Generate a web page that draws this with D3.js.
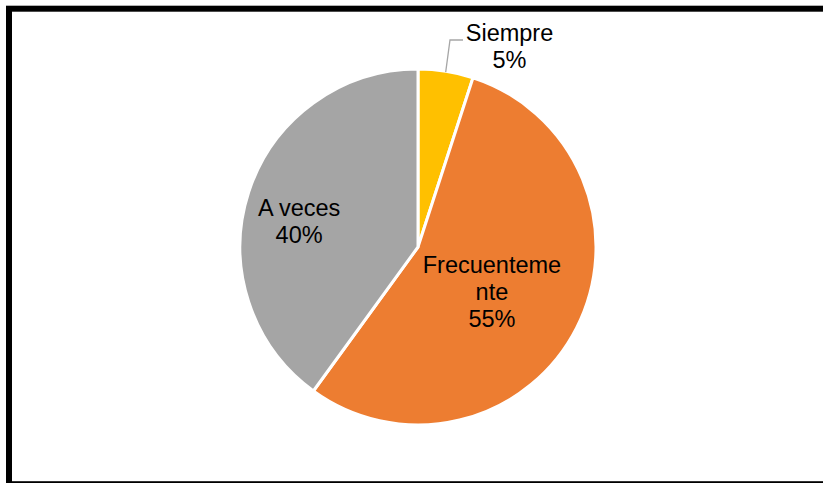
<!DOCTYPE html>
<html>
<head>
<meta charset="utf-8">
<script src="https://cdn.jsdelivr.net/npm/d3@7"></script>
<style>
  html, body { margin: 0; padding: 0; background: #fff; }
  svg { display: block; }
  text { font-family: "Liberation Sans", Arial, sans-serif; fill: #000; }
</style>
</head>
<body>
<svg id="chart" width="823" height="483"></svg>
<script>
// Survey answers and their shares (percent)
const categories = ["Siempre", "Frecuentemente", "A veces"];
const values = [5, 55, 40];
const labelLines = [["Siempre", "5%"], ["Frecuenteme", "nte", "55%"], ["A veces", "40%"]];
const colors = ["#FFC000", "#ED7D31", "#A5A5A5"];

const svg = d3.select("#chart");

// Outer frame
svg.append("rect")
  .attr("x", 9).attr("y", 8.7)
  .attr("width", 830).attr("height", 475.5)
  .attr("fill", "none").attr("stroke", "#000").attr("stroke-width", 6);

const cx = 418, cy = 247, R = 178;
const g = svg.append("g").attr("transform", `translate(${cx},${cy})`);

const data = categories.map((c, i) => ({ name: c, value: values[i], lines: labelLines[i], color: colors[i] }));
const pie = d3.pie().value(d => d.value).sort(null);
const arcs = pie(data);
const arc = d3.arc().innerRadius(0).outerRadius(R);

g.selectAll("path.slice")
  .data(arcs)
  .join("path")
  .attr("class", "slice")
  .attr("d", arc)
  .attr("fill", d => d.data.color)
  .attr("stroke", "#fff")
  .attr("stroke-width", 3)
  .attr("stroke-linejoin", "round");

const fontSize = 23.5, lineH = 27;

// Label anchor (mean baseline) per slice: inside labels ride a label arc,
// the small slice is labelled outside with a leader line
function labelPos(d, i) {
  const mid = (d.startAngle + d.endAngle) / 2;
  if (i === 0) return [91.5, -192.5];
  const rr = i === 1 ? 83 : 125;
  const shift = i === 1 ? 15 : 21.6;
  return [Math.sin(mid) * rr, -Math.cos(mid) * rr + shift];
}

arcs.forEach((d, i) => {
  const [lx, ly] = labelPos(d, i);
  const n = d.data.lines.length;
  const t = g.append("text")
    .attr("text-anchor", "middle")
    .attr("font-size", fontSize);
  d.data.lines.forEach((s, k) => {
    t.append("tspan")
      .attr("x", lx)
      .attr("y", ly + (k - (n - 1) / 2) * lineH)
      .text(s);
  });
});

// Leader line for the small outside label
const small = arcs[0];
const midA = (small.startAngle + small.endAngle) / 2;
const p0 = [Math.sin(midA) * (R - 1), -Math.cos(midA) * (R - 1)];
g.append("polyline")
  .attr("points", [p0, [32, -207], [45, -207]].map(p => p.join(",")).join(" "))
  .attr("fill", "none")
  .attr("stroke", "#A6A6A6")
  .attr("stroke-width", 1.3);
</script>
</body>
</html>
